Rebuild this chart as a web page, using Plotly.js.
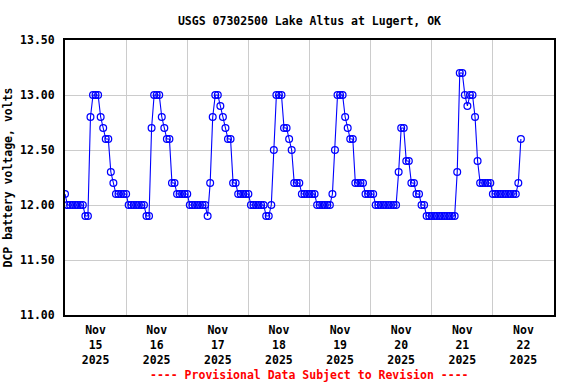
<!DOCTYPE html>
<html>
<head>
<meta charset="utf-8">
<script src="https://cdn.plot.ly/plotly-3.0.1.min.js"></script>
<style>
html,body{margin:0;padding:0;background:#fff;}
#chart{width:576px;height:384px;}
</style>
</head>
<body>
<div id="chart"></div>
<script>
// Hourly DCP battery voltage readings (volts), one array per day, starting at 00:00
const nov15 = [12.1, 12.0,12.0,12.0,12.0,12.0,12.0,12.0, 11.9,11.9, 12.8, 13.0,13.0,13.0, 12.8, 12.7, 12.6,12.6, 12.3, 12.2, 12.1,12.1,12.1,12.1];
const nov16 = [12.1, 12.0,12.0,12.0,12.0,12.0,12.0,12.0, 11.9,11.9, 12.7, 13.0,13.0,13.0, 12.8, 12.7, 12.6,12.6, 12.2,12.2, 12.1,12.1,12.1,12.1];
const nov17 = [12.1, 12.0,12.0,12.0,12.0,12.0,12.0,12.0, 11.9, 12.2, 12.8, 13.0,13.0, 12.9, 12.8, 12.7, 12.6,12.6, 12.2,12.2, 12.1,12.1,12.1,12.1];
const nov18 = [12.1, 12.0,12.0,12.0,12.0,12.0,12.0, 11.9,11.9, 12.0, 12.5, 13.0,13.0,13.0, 12.7,12.7, 12.6, 12.5, 12.2,12.2,12.2, 12.1,12.1,12.1];
const nov19 = [12.1,12.1,12.1, 12.0,12.0,12.0,12.0,12.0,12.0, 12.1, 12.5, 13.0,13.0,13.0, 12.8, 12.7, 12.6,12.6, 12.2,12.2,12.2,12.2, 12.1,12.1];
const nov20 = [12.1,12.1, 12.0,12.0,12.0,12.0,12.0,12.0,12.0,12.0,12.0, 12.3, 12.7,12.7, 12.4,12.4, 12.2,12.2, 12.1,12.1, 12.0,12.0, 11.9,11.9];
const nov21 = [11.9,11.9,11.9,11.9,11.9,11.9,11.9,11.9,11.9,11.9, 12.3, 13.2,13.2, 13.0, 12.9, 13.0,13.0, 12.8, 12.4, 12.2,12.2,12.2,12.2,12.2];
const nov22 = [12.1,12.1,12.1,12.1,12.1,12.1,12.1,12.1,12.1,12.1, 12.2, 12.6];

const dayNumbers = [15, 16, 17, 18, 19, 20, 21, 22];
const dayValues = [nov15, nov16, nov17, nov18, nov19, nov20, nov21, nov22];

const tickDates = ['2025-11-15 12:00','2025-11-16 12:00','2025-11-17 12:00','2025-11-18 12:00','2025-11-19 12:00','2025-11-20 12:00','2025-11-21 12:00','2025-11-22 12:00'];
const tickLabels = ['Nov<br>15<br>2025','Nov<br>16<br>2025','Nov<br>17<br>2025','Nov<br>18<br>2025','Nov<br>19<br>2025','Nov<br>20<br>2025','Nov<br>21<br>2025','Nov<br>22<br>2025'];

const titleText = 'USGS 07302500 Lake Altus at Lugert, OK';
const yTitle = 'DCP battery voltage, volts';
const noteText = '---- Provisional Data Subject to Revision ----';

function pad(n){ return (n < 10 ? '0' : '') + n; }
const xs = [], ys = [];
dayValues.forEach(function(vals, d){
  vals.forEach(function(v, h){
    xs.push('2025-11-' + pad(dayNumbers[d]) + ' ' + pad(h) + ':00');
    ys.push(v);
  });
});

const FONT = 'DejaVu Sans Mono, Liberation Mono, monospace';
const f = {family: FONT, size: 11.5, color: '#000', weight: 'bold'};

const trace = {
  x: xs, y: ys, type: 'scatter', mode: 'lines+markers',
  line: {color: '#0000ff', width: 1.1},
  marker: {symbol: 'circle-open', size: 6.8, color: '#0000ff', line: {width: 1.25, color: '#0000ff'}},
  hoverinfo: 'skip'
};

const layout = {
  width: 576, height: 384,
  margin: {l: 65, r: 22, t: 40, b: 69, pad: 0},
  paper_bgcolor: '#fff', plot_bgcolor: '#fff',
  showlegend: false,
  title: {text: titleText, font: f, x: 0.5, xref: 'paper', xanchor: 'center', y: 0.945, yref: 'container', yanchor: 'middle'},
  xaxis: {
    type: 'date',
    range: ['2025-11-15 00:00', '2025-11-23 00:00'],
    tickmode: 'array', tickvals: tickDates, ticktext: tickLabels,
    showgrid: false, ticks: '', tickfont: f, ticklabelstandoff: 3,
    minor: {tickmode: 'linear', tick0: '2025-11-15', dtick: 86400000, showgrid: true, gridcolor: '#cccccc', gridwidth: 1, ticks: ''},
    showline: true, mirror: true, linecolor: '#000', linewidth: 2, zeroline: false,
    fixedrange: true
  },
  yaxis: {
    range: [11, 13.5],
    tickmode: 'linear', tick0: 11, dtick: 0.5, tickformat: '.2f',
    showgrid: true, gridcolor: '#cccccc', gridwidth: 1,
    ticks: '', tickfont: f, ticklabelstandoff: 6,
    showline: true, mirror: true, linecolor: '#000', linewidth: 2, zeroline: false,
    title: {text: yTitle, font: f, standoff: 5},
    fixedrange: true
  },
  annotations: [{
    text: noteText, xref: 'paper', yref: 'paper', x: 0.5, y: -0.218,
    xanchor: 'center', yanchor: 'middle', showarrow: false,
    font: {family: FONT, size: 11.5, color: '#ff0000', weight: 'bold'}
  }]
};

Plotly.newPlot('chart', [trace], layout, {displayModeBar: false, staticPlot: true});
</script>
</body>
</html>
